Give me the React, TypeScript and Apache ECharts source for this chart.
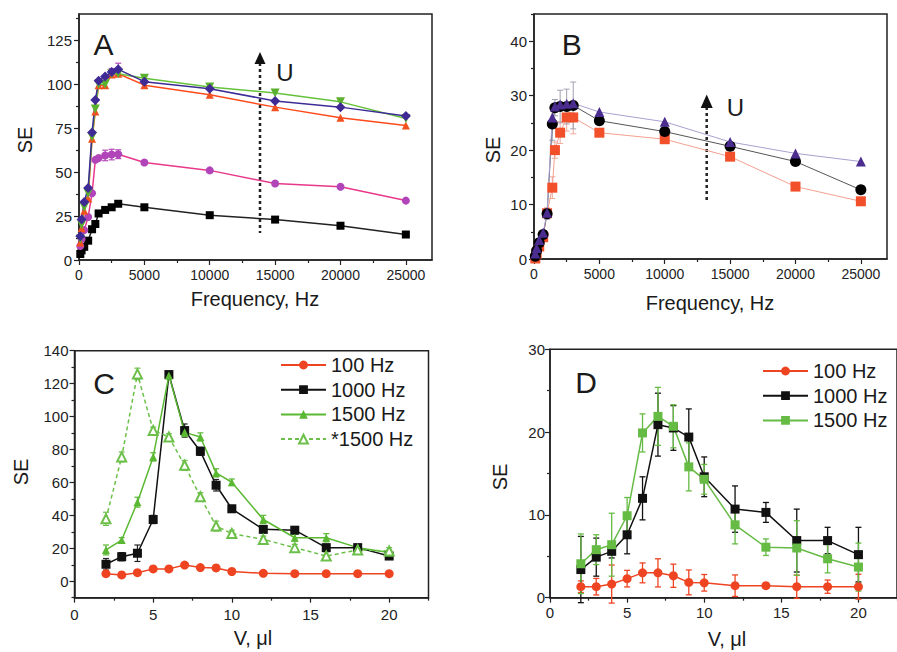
import React, { useEffect, useRef } from "react";
import * as echarts from "echarts";

const FONT = "Liberation Sans, Arial, Helvetica, sans-serif";

// ---------- Panel A ----------
const freqA = [100, 200, 400, 700, 1000, 1250, 1500, 2000, 2500, 3000, 5000, 10000, 15000, 20000, 25000];
const aBlack = [3.4, 5.5, 7.5, 11, 17.5, 20.5, 26.5, 28.5, 30, 32, 30, 25.5, 23, 19.5, 14.5];
const aPink = [8, 12, 17, 24.5, 38, 57, 58, 59.5, 60, 60.2, 55.5, 51, 43.5, 41.7, 33.8];
const aPinkErr = [0, 0, 0, 0, 0, 0, 0, 3, 3, 2.5, 0, 0, 0, 0, 0];
const aRed = [10, 18, 28, 35, 69, 84.5, 99.5, 99.5, 105.5, 106, 99.5, 94, 87, 81, 76.5];
const aGreen = [12, 20, 30, 38, 70, 86, 100, 100, 106, 106, 103.5, 98.5, 95, 90, 80.5];
const aNavy = [13.5, 23, 33, 41, 72.5, 91, 102, 104.5, 107, 108.5, 101.5, 97.5, 90.5, 87, 82];
const aNavyErr = [0, 0, 0, 0, 0, 0, 0, 0, 2, 3.5, 0, 0, 0, 0, 0];

// ---------- Panel B ----------
const freqB = [100, 200, 400, 700, 1000, 1400, 1600, 2000, 2500, 3000, 5000, 10000, 15000, 20000, 25000];
const bRed = [0.1, 1, 2.3, 4, 8.4, 13.1, 20, 23.2, 26, 26, 23.2, 22, 18.8, 13.3, 10.6];
const bRedErr = [0, 0, 0, 0.5, 1, 2, 1.5, 2, 2.5, 3, 0, 0, 0, 0, 0];
const bBlack = [0.5, 1.5, 3, 4.5, 8.3, 24.8, 27.8, 28, 28, 28.2, 25.4, 23.4, 20.7, 17.9, 12.7];
const bBlackErr = [0, 0, 0, 0.5, 1, 3, 1.5, 3, 3.2, 4.3, 0, 0, 0, 0, 0];
const bPurple = [1, 2, 3.5, 4.8, 8.5, 26, 28, 28.4, 28.5, 28.6, 27, 25.2, 21.5, 19.4, 17.9];

// ---------- Panel C ----------
const volC = [2, 3, 4, 5, 6, 7, 8, 9, 10, 12, 14, 16, 18, 20];
const c100 = [4.6, 3.8, 5.2, 7.5, 7.5, 9.8, 8.3, 8.1, 5.9, 4.8, 4.6, 4.6, 4.6, 4.6];
const c100Err = [1, 1, 1, 1, 1, 1.2, 1, 1, 1, 1, 1, 1, 1, 1];
const c1000 = [10.3, 14.9, 17, 37.5, 125.5, 91.5, 78.9, 58.3, 44, 31.5, 31, 20.4, 20.4, 15.3];
const c1000Err = [3.5, 2.5, 5, 2.5, 2, 4, 2.5, 3.5, 2, 2, 2, 2, 2, 2];
const c1500 = [19, 25, 48, 75.5, 125, 90.4, 87.6, 65.8, 60.1, 37.5, 26.4, 26.4, 20.4, 17.4];
const c1500Err = [3, 1.5, 3, 2.5, 2, 2.5, 2.5, 2.5, 2, 2.5, 2, 2.5, 1.5, 1.5];
const c1500s = [37.9, 75.5, 125.9, 91.6, 87.6, 70.4, 51.3, 33.5, 29, 25.4, 20.4, 15.3, 19, 18.4];
const c1500sErr = [4, 3, 3.5, 2, 2, 3, 2.5, 3, 2, 2, 2, 2.5, 1.5, 2];

// ---------- Panel D ----------
const volD = [2, 3, 4, 5, 6, 7, 8, 9, 10, 12, 14, 16, 18, 20];
const d100 = [1.33, 1.33, 1.65, 2.3, 3.0, 3.0, 2.65, 1.85, 1.8, 1.45, 1.45, 1.33, 1.33, 1.33];
const d100Err = [0.7, 1.0, 2.3, 1.0, 1.2, 1.7, 1.4, 1.5, 1.0, 1.3, 0.3, 1.4, 0.8, 1.5];
const d1000 = [3.4, 4.9, 5.6, 7.6, 12, 20.9, 20.5, 19.4, 14.6, 10.7, 10.3, 6.9, 6.9, 5.2];
const d1000Err = [4, 2.3, 0.8, 2.3, 2.6, 3.8, 2.7, 3.4, 2.4, 2.8, 1.2, 3.8, 1.6, 3.3];
const d1500 = [4.1, 5.8, 6.4, 9.9, 19.9, 21.9, 20.7, 15.8, 14.3, 8.8, 6.1, 6.0, 4.7, 3.7];
const d1500Err = [3.6, 1.8, 3.8, 2.2, 2.3, 3.5, 2.6, 2.9, 1.8, 2.3, 1.0, 3.3, 1.7, 2.9];

// ---------- Ticks ----------
const freqTicks = [0, 5000, 10000, 15000, 20000, 25000];
const freqMinor = [2500, 7500, 12500, 17500, 22500];
const aTicks = [0, 25, 50, 75, 100, 125];
const aMinor = [12.5, 37.5, 62.5, 87.5, 112.5, 137.5];
const bTicks = [0, 10, 20, 30, 40];
const bMinor = [5, 15, 25, 35, 45];
const volTicks = [0, 5, 10, 15, 20];
const volMinor = [2.5, 7.5, 12.5, 17.5, 22.5];
const cTicks = [0, 20, 40, 60, 80, 100, 120, 140];
const cMinor = [-10, 10, 30, 50, 70, 90, 110, 130];
const dTicks = [0, 10, 20, 30];
const dMinor = [5, 15, 25];

const legendC = ["100 Hz", "1000 Hz", "1500 Hz", "*1500 Hz"];
const legendD = ["100 Hz", "1000 Hz", "1500 Hz"];

const AX = "#222";

function mainX(grid: number, min: number, max: number, ticks: number[], fs: number, margin: number) {
  return {
    type: "value", gridIndex: grid, min, max, position: "bottom",
    axisLine: { show: true, onZero: false, lineStyle: { color: AX, width: 1.5 } },
    axisTick: { show: true, length: 5, customValues: ticks, lineStyle: { color: AX, width: 1.2 } },
    axisLabel: { customValues: ticks, formatter: (v: number) => String(v), fontSize: fs, color: AX, margin, fontFamily: FONT },
    splitLine: { show: false },
  };
}
function minorX(grid: number, min: number, max: number, vals: number[]) {
  return {
    type: "value", gridIndex: grid, min, max, position: "bottom",
    axisLine: { show: false, onZero: false },
    axisTick: { show: true, length: 3, customValues: vals, lineStyle: { color: AX, width: 1.2 } },
    axisLabel: { show: false },
    splitLine: { show: false },
  };
}
function mainY(grid: number, min: number, max: number, ticks: number[], fs: number, margin: number) {
  return {
    type: "value", gridIndex: grid, min, max, position: "left",
    axisLine: { show: true, onZero: false, lineStyle: { color: AX, width: 1.5 } },
    axisTick: { show: true, length: 5, customValues: ticks, lineStyle: { color: AX, width: 1.2 } },
    axisLabel: { customValues: ticks, formatter: (v: number) => String(v), fontSize: fs, color: AX, margin, fontFamily: FONT },
    splitLine: { show: false },
  };
}
function minorY(grid: number, min: number, max: number, vals: number[]) {
  return {
    type: "value", gridIndex: grid, min, max, position: "left",
    axisLine: { show: false, onZero: false },
    axisTick: { show: true, length: 3, customValues: vals, lineStyle: { color: AX, width: 1.2 } },
    axisLabel: { show: false },
    splitLine: { show: false },
  };
}

function lineS(name: string, g: number, xs: number[], ys: number[], o: any) {
  return {
    type: "line", name, xAxisIndex: 2 * g, yAxisIndex: 2 * g,
    data: xs.map((x, i) => [x, ys[i]]),
    symbol: o.symbol, symbolSize: o.size, symbolRotate: o.rotate || 0,
    showAllSymbol: true,
    itemStyle: { color: o.mcolor || o.color, borderColor: o.bcolor || o.mcolor || o.color, borderWidth: o.bw || 0 },
    lineStyle: { color: o.color, width: o.width || 1.5, type: o.dash || "solid" },
    emphasis: { disabled: true },
    z: 3,
  };
}

function errS(g: number, xs: number[], ys: number[], es: number[], color: string, w: number) {
  return {
    type: "custom", xAxisIndex: 2 * g, yAxisIndex: 2 * g, silent: true, z: 2,
    data: xs.map((x, i) => [x, ys[i], es[i]]),
    encode: { x: 0, y: 1 },
    renderItem: (_p: any, api: any) => {
      const x = api.value(0), y = api.value(1), e = api.value(2);
      if (!e) return { type: "group", children: [] };
      const t = api.coord([x, y + e]);
      const b = api.coord([x, y - e]);
      const hw = 3;
      const st = { stroke: color, lineWidth: w };
      return {
        type: "group",
        children: [
          { type: "line", shape: { x1: t[0], y1: t[1], x2: b[0], y2: b[1] }, style: st },
          { type: "line", shape: { x1: t[0] - hw, y1: t[1], x2: t[0] + hw, y2: t[1] }, style: st },
          { type: "line", shape: { x1: b[0] - hw, y1: b[1], x2: b[0] + hw, y2: b[1] }, style: st },
        ],
      };
    },
  };
}

function txt(x: number, y: number, text: string, size: number, rot = 0) {
  return {
    type: "text", x, y, rotation: rot,
    style: { text, fontSize: size, fontFamily: FONT, fill: "#1a1a1a", align: "center", verticalAlign: "middle" },
  };
}
function arrow(x: number, tip: number, base: number, end: number, hw: number) {
  return [
    { type: "line", shape: { x1: x, y1: base, x2: x, y2: end }, style: { stroke: "#222", lineWidth: 2.5, lineDash: [3, 3] } },
    { type: "polygon", shape: { points: [[x - hw, base + 1], [x + hw, base + 1], [x, tip]] }, style: { fill: "#111" } },
  ];
}

export default function App() {
  const ref = useRef<HTMLDivElement>(null);
  useEffect(() => {
    if (!ref.current) return;
    const chart = echarts.init(ref.current, undefined, { renderer: "svg" });
    const gridStyle = { show: true, borderColor: AX, borderWidth: 1.5, backgroundColor: "transparent", containLabel: false };
    const option: any = {
      animation: false,
      backgroundColor: "#fff",
      textStyle: { fontFamily: FONT },
      grid: [
        { ...gridStyle, left: 79, top: 14, width: 353, height: 246 },
        { ...gridStyle, left: 534, top: 14, width: 353, height: 245 },
        { ...gridStyle, left: 74.5, top: 350.7, width: 354, height: 247 },
        { ...gridStyle, left: 550, top: 349.3, width: 354, height: 248.4 },
      ],
      xAxis: [
        mainX(0, 0, 27000, freqTicks, 14, 8), minorX(0, 0, 27000, freqMinor),
        mainX(1, 0, 27000, freqTicks, 14, 8), minorX(1, 0, 27000, freqMinor),
        mainX(2, 0, 22.5, volTicks, 15, 9), minorX(2, 0, 22.5, volMinor),
        mainX(3, 0, 22.5, volTicks, 15, 7), minorX(3, 0, 22.5, volMinor),
      ],
      yAxis: [
        mainY(0, 0, 140, aTicks, 15, 7), minorY(0, 0, 140, aMinor),
        mainY(1, 0, 45, bTicks, 15, 7), minorY(1, 0, 45, bMinor),
        mainY(2, -10, 140, cTicks, 15, 6), minorY(2, -10, 140, cMinor),
        mainY(3, 0, 30, dTicks, 15, 5), minorY(3, 0, 30, dMinor),
      ],
      legend: [
        {
          left: 280, top: 355, orient: "vertical", itemWidth: 45, itemHeight: 11, itemGap: 4.7, padding: 0,
          selectedMode: false, data: legendC.map((n) => "C:" + n),
          formatter: (n: string) => n.slice(2),
          textStyle: { fontSize: 20, color: "#1a1a1a", fontFamily: FONT, lineHeight: 20 },
        },
        {
          left: 762, top: 361, orient: "vertical", itemWidth: 45, itemHeight: 11, itemGap: 4.7, padding: 0,
          selectedMode: false, data: legendD.map((n) => "D:" + n),
          formatter: (n: string) => n.slice(2),
          textStyle: { fontSize: 20, color: "#1a1a1a", fontFamily: FONT, lineHeight: 20 },
        },
      ],
      series: [
        // A
        errS(0, freqA, aPink, aPinkErr, "#b548b8", 1.2),
        errS(0, freqA, aNavy, aNavyErr, "#b548b8", 1.2),
        lineS("A-black", 0, freqA, aBlack, { symbol: "rect", size: 8, color: "#222", mcolor: "#000" }),
        lineS("A-pink", 0, freqA, aPink, { symbol: "circle", size: 8, color: "#e8388a", mcolor: "#b044b8" }),
        lineS("A-red", 0, freqA, aRed, { symbol: "triangle", size: 8, color: "#ff4a1a", mcolor: "#f2501e" }),
        lineS("A-green", 0, freqA, aGreen, { symbol: "triangle", rotate: 180, size: 9, color: "#66c23a", mcolor: "#5cb030" }),
        lineS("A-navy", 0, freqA, aNavy, { symbol: "diamond", size: 10, color: "#3c2c96", mcolor: "#3f2a95" }),
        // B
        errS(1, freqB, bRed, bRedErr, "#f0a898", 1),
        errS(1, freqB, bBlack, bBlackErr, "#a0a0b0", 1),
        lineS("B-red", 1, freqB, bRed, { symbol: "rect", size: 10, color: "#f4a090", mcolor: "#f2502a", width: 1 }),
        lineS("B-black", 1, freqB, bBlack, { symbol: "circle", size: 11, color: "#555", mcolor: "#000", width: 1 }),
        lineS("B-purple", 1, freqB, bPurple, { symbol: "triangle", size: 10, color: "#a9a0d0", mcolor: "#4b2d8f", width: 1 }),
        // C
        errS(2, volC, c100, c100Err, "#ee4422", 1.2),
        errS(2, volC, c1000, c1000Err, "#222", 1.2),
        errS(2, volC, c1500, c1500Err, "#5ab832", 1.2),
        errS(2, volC, c1500s, c1500sErr, "#6cc04a", 1.2),
        lineS("C:100 Hz", 2, volC, c100, { symbol: "circle", size: 9, color: "#ee4422" }),
        lineS("C:1000 Hz", 2, volC, c1000, { symbol: "rect", size: 9, color: "#111" }),
        lineS("C:1500 Hz", 2, volC, c1500, { symbol: "triangle", size: 8, color: "#5ab832" }),
        lineS("C:*1500 Hz", 2, volC, c1500s, { symbol: "emptyTriangle", size: 9, color: "#6cc04a", bw: 1.5, dash: [4, 3] }),
        // D
        errS(3, volD, d100, d100Err, "#ee4422", 1.3),
        errS(3, volD, d1000, d1000Err, "#111", 1.3),
        errS(3, volD, d1500, d1500Err, "#66bb44", 1.3),
        lineS("D:100 Hz", 3, volD, d100, { symbol: "circle", size: 9, color: "#ee4422" }),
        lineS("D:1000 Hz", 3, volD, d1000, { symbol: "rect", size: 9, color: "#111" }),
        lineS("D:1500 Hz", 3, volD, d1500, { symbol: "rect", size: 9, color: "#66bb44" }),
      ],
      graphic: [
        txt(103.5, 44, "A", 30),
        txt(571.7, 44, "B", 30),
        txt(104, 383, "C", 30),
        txt(586, 382, "D", 30),
        txt(285, 72, "U", 24),
        txt(735.5, 107, "U", 24),
        ...arrow(260, 52, 63, 233, 5.5),
        ...arrow(706.7, 94.5, 107, 202, 6),
        txt(255, 299, "Frequency, Hz", 20),
        txt(710, 303, "Frequency, Hz", 20),
        txt(253, 638, "V, \u03bcl", 20),
        txt(727, 639, "V, \u03bcl", 20),
        txt(25, 140, "SE", 20, Math.PI / 2),
        txt(492.7, 150, "SE", 20, Math.PI / 2),
        txt(21, 472, "SE", 20, Math.PI / 2),
        txt(500, 477, "SE", 20, Math.PI / 2),
      ],
    };
    chart.setOption(option);
    return () => chart.dispose();
  }, []);
  return <div ref={ref} style={{ position: "absolute", left: 0, top: 0, width: 897, height: 652 }} />;
}
